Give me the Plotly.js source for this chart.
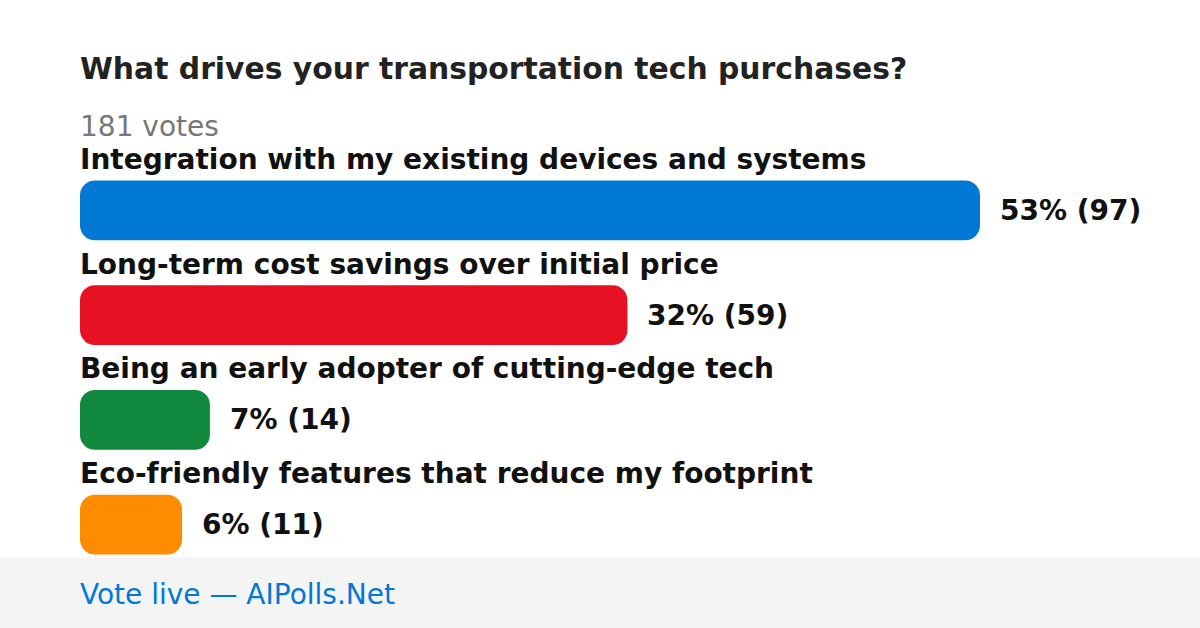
<!DOCTYPE html>
<html>
<head>
<meta charset="utf-8">
<script src="https://cdn.plot.ly/plotly-3.0.1.min.js"></script>
<style>html,body{margin:0;padding:0;background:#fff;}#chart{width:1200px;height:628px;}</style>
</head>
<body>
<div id="chart"></div>
<script>
const titleText = "What drives your transportation tech purchases?";
const totalVotesText = "181 votes";
const footerText = "Vote live — AIPolls.Net";
const categories = [
  "Integration with my existing devices and systems",
  "Long-term cost savings over initial price",
  "Being an early adopter of cutting-edge tech",
  "Eco-friendly features that reduce my footprint"
];
const votes = [97, 59, 14, 11];
const percents = [53, 32, 7, 6];
const colors = ["#0078d4", "#e81123", "#10893e", "#ff8c00"];

const W = 1200, H = 628;
const L = 80, R = 80, T = 157.5, B = 50.5;
const plotW = W - L - R, plotH = H - T - B;
const maxBarPx = 900;
const xMax = Math.max(...votes) * plotW / maxBarPx;
const px = x => (x - L) / plotW;
const py = y => (H - B - y) / plotH;
const font = "DejaVu Sans";

const idx = categories.map((_, i) => i);

// Bars drawn from the vote value back to zero: with an explicit base Plotly rounds all four corners.
const bars = {
  type: "bar", orientation: "h",
  base: votes,
  x: votes.map(v => -v),
  y: idx, width: 60 / 105,
  marker: { color: colors, cornerradius: 15, line: { width: 0 } },
  hoverinfo: "none", showlegend: false
};

const annotations = [];
annotations.push({
  xref: "paper", yref: "paper", x: px(80), y: py(68), xanchor: "left", yanchor: "middle", xshift: -2,
  text: "<b>" + titleText + "</b>", showarrow: false,
  font: { family: font, size: 29.8, color: "#222222" }
});
annotations.push({
  xref: "paper", yref: "paper", x: px(80), y: py(126), xanchor: "left", yanchor: "middle", xshift: -2,
  text: totalVotesText, showarrow: false,
  font: { family: font, size: 28, color: "#777777" }
});
annotations.push({
  xref: "paper", yref: "paper", x: px(80), y: py(595), xanchor: "left", yanchor: "middle", xshift: -2,
  text: footerText, showarrow: false,
  font: { family: font, size: 28, color: "#0078d4" }
});
categories.forEach((c, i) => {
  annotations.push({
    xref: "paper", yref: "y", x: 0, y: i - 0.486, xanchor: "left", yanchor: "middle", xshift: -2,
    text: "<b>" + c + "</b>", showarrow: false,
    font: { family: font, size: 28, color: "#111111" }
  });
  annotations.push({
    xref: "x", yref: "y", x: votes[i], y: i, xanchor: "left", yanchor: "middle", xshift: 18,
    text: "<b>" + percents[i] + "% (" + votes[i] + ")</b>", showarrow: false,
    font: { family: font, size: 28, color: "#111111" }
  });
});

const layout = {
  width: W, height: H,
  margin: { l: L, r: R, t: T, b: B, pad: 0 },
  paper_bgcolor: "#ffffff",
  plot_bgcolor: "rgba(0,0,0,0)",
  xaxis: { range: [0, xMax], visible: false, fixedrange: true },
  yaxis: { range: [idx.length - 0.5, -0.5], visible: false, fixedrange: true },
  shapes: [{
    type: "rect", xref: "paper", yref: "paper", layer: "below",
    x0: px(0), x1: px(W), y0: py(558), y1: py(H + 2),
    fillcolor: "#f4f4f4", line: { width: 0 }
  }],
  annotations: annotations,
  font: { family: font }
};

Plotly.newPlot("chart", [bars], layout, { displayModeBar: false, staticPlot: true });
</script>
</body>
</html>
